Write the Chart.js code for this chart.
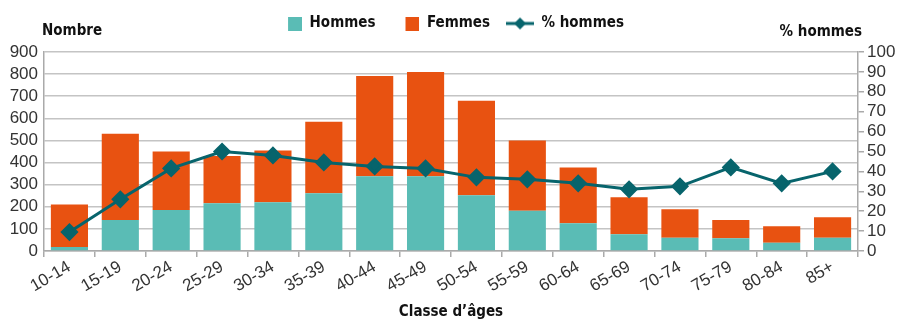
<!DOCTYPE html>
<html lang="fr">
<head>
<meta charset="utf-8">
<script src="https://cdn.jsdelivr.net/npm/chart.js@4.4.1/dist/chart.umd.min.js"></script>
<style>
  html, body { margin: 0; padding: 0; background: #fff; }
  #wrap { width: 898px; height: 321px; position: relative; }
</style>
</head>
<body>
<div id="wrap"><canvas id="chart"></canvas></div>
<script>
// Données
const classes = ['10-14', '15-19', '20-24', '25-29', '30-34', '35-39', '40-44', '45-49',
                 '50-54', '55-59', '60-64', '65-69', '70-74', '75-79', '80-84', '85+'];
const hommes = [18, 140, 185, 216, 221, 261, 338, 338, 252, 182, 126, 76, 60, 58, 37, 60];
const femmes = [192, 390, 265, 214, 234, 324, 454, 472, 428, 318, 252, 167, 129, 82, 75, 93];
const pctHommes = [9.5, 26, 41.5, 50, 48, 44.5, 42.5, 41.5, 37, 36, 34, 31, 32.5, 42, 34, 40];
const nombreMax = 900;
const pctMax = 100;

// Couleurs et polices
const TEAL = '#5abcb5';
const ORANGE = '#e85211';
const LINE = '#07646c';
const GRID = '#c4c4c4';
const TXT = '#333333';
const NARROW = '"DejaVu Sans Condensed", "Liberation Sans", sans-serif';
const REG = '"Liberation Sans", Arial, sans-serif';

let canvas = document.getElementById('chart');
let context = canvas.getContext('2d');

// Icônes de légende (même largeur pour tous les éléments)
const ICON_W = 28;
const squareIcon = (color) => {
  let c = document.createElement('canvas');
  c.width = ICON_W; c.height = 14;
  let g = c.getContext('2d');
  g.fillStyle = color;
  g.fillRect(ICON_W - 14, 0, 14, 14);
  return c;
}
const lineIcon = (color) => {
  let c = document.createElement('canvas');
  c.width = ICON_W; c.height = 14;
  let g = c.getContext('2d');
  g.strokeStyle = color;
  g.lineWidth = 3;
  g.beginPath(); g.moveTo(0, 7); g.lineTo(ICON_W, 7); g.stroke();
  g.fillStyle = color;
  let m = ICON_W / 2;
  g.beginPath(); g.moveTo(m, 1); g.lineTo(m + 6, 7); g.lineTo(m, 13); g.lineTo(m - 6, 7); g.closePath(); g.fill();
  return c;
}
const icons = [squareIcon(TEAL), squareIcon(ORANGE), lineIcon(LINE)];

// Espace supplémentaire sous la légende (pour les titres d'axes)
const legendGap = {
  id: 'legendGap',
  afterInit(chart) {
    let legend = chart.legend;
    let fit = legend.fit;
    legend.fit = function () {
      fit.call(this);
      this.height += 11;
    };
  }
}

// Titres des axes verticaux, posés au-dessus des axes
const axisTitles = {
  id: 'axisTitles',
  afterDraw(chart) {
    let ctx = chart.ctx;
    let area = chart.chartArea;
    ctx.save();
    ctx.font = 'bold 15px ' + NARROW;
    ctx.fillStyle = '#111';
    ctx.textBaseline = 'middle';
    ctx.textAlign = 'left';
    ctx.fillText('Nombre', area.left - 2, area.top - 21);
    ctx.textAlign = 'right';
    ctx.fillText('% hommes', area.right + 4, area.top - 20);
    ctx.restore();
  }
}

let chart = new Chart(context, {
  type: 'bar',
  data: {
    labels: classes,
    datasets: [
      { label: 'Hommes', data: hommes, backgroundColor: TEAL, yAxisID: 'y', stack: 'n', order: 1 },
      { label: 'Femmes', data: femmes, backgroundColor: ORANGE, yAxisID: 'y', stack: 'n', order: 1 },
      {
        type: 'line', label: '% hommes', data: pctHommes, yAxisID: 'y1', order: 0,
        borderColor: LINE, backgroundColor: LINE, borderWidth: 3,
        pointStyle: 'rectRot', pointRadius: 7, pointHoverRadius: 7, tension: 0
      }
    ]
  },
  options: {
    responsive: true,
    maintainAspectRatio: false,
    animation: false,
    datasets: { bar: { barPercentage: 0.73, categoryPercentage: 1 } },
    layout: { padding: { top: 0, bottom: 0, left: 0, right: 0 } },
    plugins: {
      tooltip: { enabled: false },
      legend: {
        position: 'top',
        align: 'center',
        labels: {
          usePointStyle: true,
          pointStyleWidth: ICON_W,
          boxHeight: 14,
          padding: 16,
          color: '#111',
          font: { family: NARROW, size: 15, weight: 'bold' },
          sort: (a, b) => a.datasetIndex - b.datasetIndex,
          generateLabels: (ch) => {
            let items = Chart.defaults.plugins.legend.labels.generateLabels(ch);
            items.forEach(it => { it.pointStyle = icons[it.datasetIndex]; });
            return items;
          }
        }
      }
    },
    scales: {
      x: {
        stacked: true,
        grid: { drawOnChartArea: false, drawTicks: true, tickLength: 6, color: '#aaaaaa', lineWidth: 1.5 },
        border: { color: '#aaaaaa', width: 1.5 },
        ticks: { color: TXT, font: { family: REG, size: 17 }, minRotation: 30, maxRotation: 30, padding: 0, autoSkip: false },
        title: { display: true, text: 'Classe d’âges', color: '#111', font: { family: NARROW, size: 15, weight: 'bold' }, padding: 0 },
        afterFit: (s) => { s.height = 70; }
      },
      y: {
        stacked: true,
        position: 'left',
        min: 0, max: nombreMax,
        ticks: { stepSize: 100, autoSkip: false, color: TXT, font: { family: REG, size: 17, lineHeight: 1 }, padding: 6 },
        grid: { color: GRID, lineWidth: 1.5, drawTicks: false },
        border: { color: '#aaaaaa', width: 1.5 },
        afterFit: (s) => { s.width = 44; }
      },
      y1: {
        position: 'right',
        min: 0, max: pctMax,
        ticks: { stepSize: 10, autoSkip: false, color: TXT, font: { family: REG, size: 17, lineHeight: 1 }, padding: 3 },
        grid: { drawOnChartArea: false, tickLength: 6, color: '#aaaaaa', lineWidth: 1.5 },
        border: { color: '#aaaaaa', width: 1.5 },
        afterFit: (s) => { s.width = 40; }
      }
    }
  },
  plugins: [legendGap, axisTitles]
});
</script>
</body>
</html>
